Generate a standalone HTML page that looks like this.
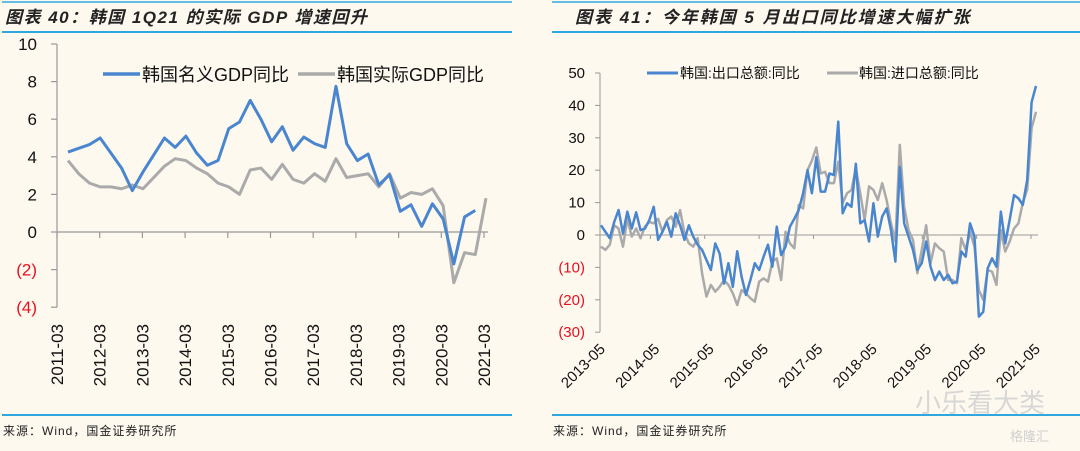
<!DOCTYPE html>
<html><head><meta charset="utf-8">
<style>
body{margin:0;background:#fdf9ef;}
svg{display:block;font-family:"Liberation Sans","Noto Sans CJK SC",sans-serif;}
</style></head>
<body>
<svg id="c" width="1080" height="451" xmlns="http://www.w3.org/2000/svg">
<rect width="1080" height="451" fill="#fdf9ef"/>
<g>
<line x1="2" y1="2" x2="512" y2="2" stroke="#2ea7e0" stroke-width="1.5"/>
<line x1="2" y1="32" x2="512" y2="32" stroke="#2ea7e0" stroke-width="2"/>
<line x1="2" y1="415" x2="512" y2="415" stroke="#2ea7e0" stroke-width="2"/>
<text x="5" y="23" font-size="17" font-weight="bold" font-style="italic" fill="#222" letter-spacing="1.5">图表 40：韩国 1Q21 的实际 GDP 增速回升</text>
<text x="3" y="435" font-size="12" fill="#222" letter-spacing="1">来源：Wind，国金证券研究所</text>
</g>
<g>
<line x1="552" y1="2" x2="1080" y2="2" stroke="#2ea7e0" stroke-width="1.5"/>
<line x1="552" y1="32" x2="1080" y2="32" stroke="#2ea7e0" stroke-width="2"/>
<line x1="552" y1="415" x2="1080" y2="415" stroke="#2ea7e0" stroke-width="2"/>
<text x="575" y="23" font-size="17" font-weight="bold" font-style="italic" fill="#222" letter-spacing="2">图表 41：今年韩国 5 月出口同比增速大幅扩张</text>
<text x="553" y="435" font-size="12" fill="#222" letter-spacing="1">来源：Wind，国金证券研究所</text>
<text x="915" y="412" font-size="26" fill="#cfcfcf" opacity="0.8">小乐看大类</text>
<text x="1010" y="441" font-size="13" fill="#cfcfcf">格隆汇</text>
</g>
<g id="L"></g>
<g id="R"></g>
</svg>
<script>
// Left chart data (quarterly, 2011Q2..2021Q1)
const gdpNominal=[4.25,4.45,4.65,5.0,4.2,3.4,2.2,3.2,4.1,5.0,4.5,5.1,4.2,3.55,3.8,5.5,5.85,7.0,6.0,4.8,5.6,4.35,5.05,4.7,4.5,7.75,4.7,3.8,4.15,2.5,3.05,1.1,1.45,0.3,1.5,0.7,-1.7,0.8,1.15];
const gdpReal=[3.8,3.1,2.6,2.4,2.4,2.3,2.5,2.3,2.9,3.5,3.9,3.8,3.4,3.1,2.6,2.4,2.0,3.3,3.4,2.8,3.6,2.8,2.6,3.1,2.7,3.9,2.9,3.0,3.1,2.4,3.1,1.8,2.1,2.0,2.3,1.4,-2.7,-1.1,-1.2,1.8];
const leftXLabels=["2011-03","2012-03","2013-03","2014-03","2015-03","2016-03","2017-03","2018-03","2019-03","2020-03","2021-03"];
const leftYTicks=[10,8,6,4,2,0,-2,-4];
// Right chart data (monthly)
const exportYoY=[3,1,-1,4,7.7,0.5,7.2,2,7,1.5,2,4.6,8.7,-1.5,1,4,-0.5,6.7,3,-1.5,3,-0.5,-3,-4.6,-7.7,-10.8,-2.6,-5.7,-15,-8.7,-16,-5,-12.9,-18.5,-13.9,-8.7,-10.8,-6.7,-3,-9.8,2.6,-6.2,-3.6,2.6,5,7.7,12.9,20,12.9,24,13.4,13.4,19,18.5,35,6.7,9.8,8.7,22,3.6,4.6,-2,9.8,-0.5,5.7,8.2,1.5,-8.2,21,3.6,-0.5,-4.6,-10.8,-8.7,-2,-9.8,-13.9,-11.3,-13.9,-12.3,-14.9,-14.4,-5.1,-6.7,3.6,-0.5,-25.2,-23.7,-10.3,-7.2,-9.8,7.2,-2.6,4.6,12.3,11.3,9.3,17,41,46];
const importYoY=[-3.6,-4.6,-3,3,2,-3.6,5,-0.5,2,-1,2.6,4,3.6,5,1,4.6,5.7,2.6,7.7,0.5,-2.6,-3.6,-1,-11.8,-19,-15.4,-17.5,-16,-13.9,-15.4,-18,-21.6,-17,-18,-19.5,-20.6,-14.4,-13.4,-14.4,-8.2,-7.2,-13.9,1,-2.6,-4.1,9.3,8.2,20,23,27,19,19.5,16,16,22.6,9.8,12.9,13.9,20.6,12.9,4.6,15,13.9,10.8,16,10.8,3.6,-2,27.8,8.7,1.5,-1.5,-11.8,-4.6,3,-8.7,-2.6,-4.1,-5.1,-13.9,-13.9,-14.9,-1,-4.6,1,-3.6,-17,-20,-10.8,-11.3,-15.4,1.5,-5.1,-2,2,3.6,10,14,33,38];
const rightXLabels=["2013-05","2014-05","2015-05","2016-05","2017-05","2018-05","2019-05","2020-05","2021-05"];
const rightYTicks=[50,40,30,20,10,0,-10,-20,-30];

const NS="http://www.w3.org/2000/svg";
function mk(parent,tag,attrs,text){const e=document.createElementNS(NS,tag);for(const k in attrs)e.setAttribute(k,attrs[k]);if(text!==undefined)e.textContent=text;parent.appendChild(e);return e;}
const fmt=v=>v<0?"("+(-v)+")":String(v);

// LEFT
const L=document.getElementById('L');
const lx0=57,lxEnd=486,ly=v=>232-v*18.8;
const lxp=i=>68+i*(lxEnd-68)/(gdpReal.length-1);
let ax=mk(L,'line',{x1:lx0,y1:ly(10),x2:lx0,y2:ly(-4),stroke:'#999','stroke-width':1.2});


let zx=mk(L,'line',{x1:lx0,y1:ly(0),x2:488,y2:ly(0),stroke:'#999','stroke-width':1.2});


leftYTicks.forEach(v=>{
  mk(L,'line',{x1:lx0-6,y1:ly(v),x2:lx0,y2:ly(v),stroke:'#999','stroke-width':1.2});
  const t=mk(L,'text',{x:37,y:ly(v)+6,'font-size':17,'text-anchor':'end',fill:v<0?'#e8101e':'#111'},fmt(v));
  
  
});
leftXLabels.forEach((s,k)=>{
  const x=lx0+k*42.7;
  mk(L,'line',{x1:x,y1:ly(0),x2:x,y2:ly(0)+6,stroke:'#999','stroke-width':1.2});
  const t=mk(L,'text',{x:0,y:0,'font-size':17,'text-anchor':'end',fill:'#111',transform:`translate(${x+6},324) rotate(-90)`},s);
  
  
});
function poly(g,arr,xf,yf,col,w,name){
  const p=mk(g,'polyline',{points:arr.map((v,i)=>xf(i)+','+yf(v)).join(' '),fill:'none',stroke:col,'stroke-width':w,'stroke-linejoin':'round'});
  
  
}
poly(L,gdpReal,lxp,ly,'#aaaaaa',3,'real-gdp-line');
poly(L,gdpNominal,lxp,ly,'#4a86d0',3,'nominal-gdp-line');
mk(L,'line',{x1:103,y1:74,x2:140,y2:74,stroke:'#4a86d0','stroke-width':3.5});
let lg=mk(L,'text',{x:142,y:81,'font-size':18,fill:'#111'},'韩国名义GDP同比');


mk(L,'line',{x1:298,y1:74,x2:335,y2:74,stroke:'#aaaaaa','stroke-width':3.5});
lg=mk(L,'text',{x:337,y:81,'font-size':18,fill:'#111'},'韩国实际GDP同比');



// RIGHT
const R=document.getElementById('R');
const rx0=600,rxEnd=1036,ry=v=>235-v*3.24;
const rxp=i=>rx0+1+i*(rxEnd-rx0-1)/(exportYoY.length-1);
ax=mk(R,'line',{x1:rx0,y1:ry(50),x2:rx0,y2:ry(-30),stroke:'#999','stroke-width':1});


zx=mk(R,'line',{x1:rx0,y1:ry(0),x2:1038,y2:ry(0),stroke:'#999','stroke-width':1});


rightYTicks.forEach(v=>{
  mk(R,'line',{x1:rx0-5,y1:ry(v),x2:rx0,y2:ry(v),stroke:'#999','stroke-width':1});
  const t=mk(R,'text',{x:585,y:ry(v)+5,'font-size':15,'text-anchor':'end',fill:v<0?'#e8101e':'#111'},fmt(v));
  
  
});
rightXLabels.forEach((s,k)=>{
  const x=rx0+1+k*(rxEnd-rx0-1)/(rightXLabels.length-1);
  if(k>0)mk(R,'line',{x1:x-5,y1:ry(0),x2:x-5,y2:ry(0)+4,stroke:'#999','stroke-width':1});
  const t=mk(R,'text',{x:0,y:0,'font-size':15,'text-anchor':'end',fill:'#111',transform:`translate(${x+5},350) rotate(-45)`},s);
  
  
});
poly(R,importYoY,rxp,ry,'#aaaaaa',2.5,'import-yoy-line');
poly(R,exportYoY,rxp,ry,'#4a86d0',2.5,'export-yoy-line');
mk(R,'line',{x1:647,y1:73,x2:678,y2:73,stroke:'#4a86d0','stroke-width':3});
lg=mk(R,'text',{x:680,y:78,'font-size':14,fill:'#111'},'韩国:出口总额:同比');


mk(R,'line',{x1:827,y1:73,x2:858,y2:73,stroke:'#aaaaaa','stroke-width':3});
lg=mk(R,'text',{x:859,y:78,'font-size':14,fill:'#111'},'韩国:进口总额:同比');


</script>
</body></html>
